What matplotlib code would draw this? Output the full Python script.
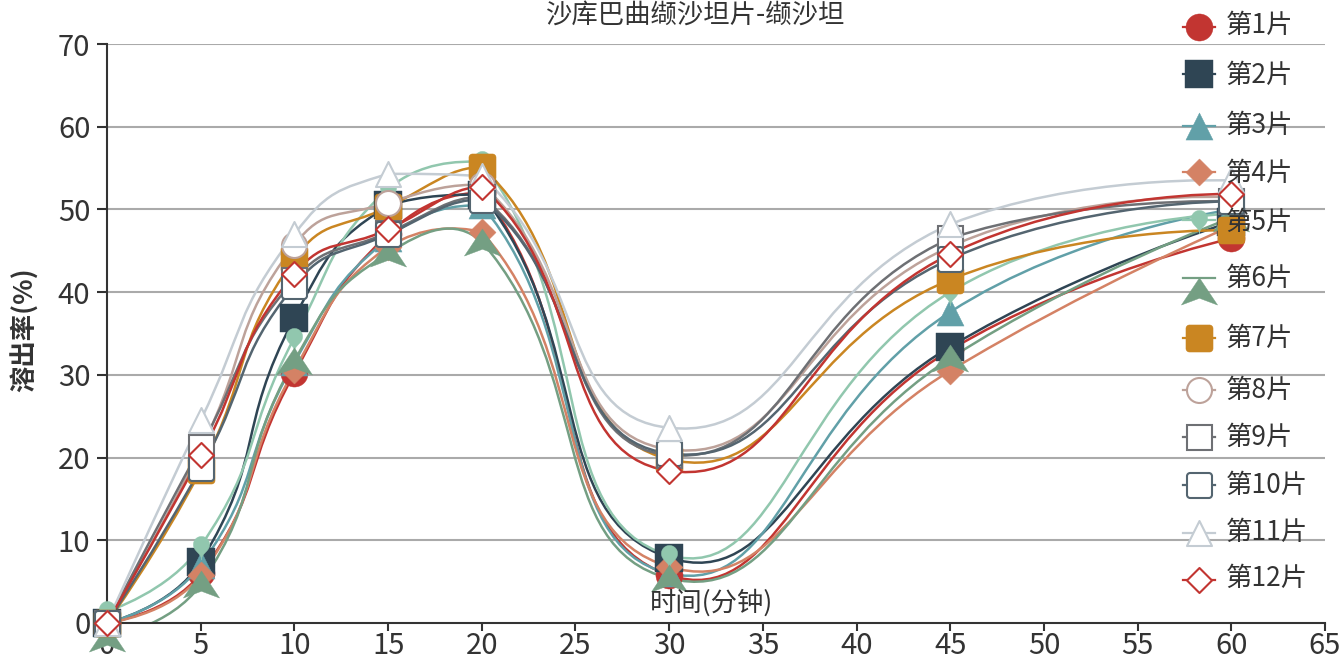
import numpy as np
import matplotlib
matplotlib.use('Agg')
import matplotlib.pyplot as plt
from matplotlib.path import Path
from matplotlib.patches import PathPatch

plt.rcParams['font.family'] = ['Noto Sans CJK SC', 'DejaVu Sans']

# ---------------- data ----------------
title = '沙库巴曲缬沙坦片-缬沙坦'
x_name = '时间(分钟)'
y_name = '溶出率(%)'
times = [0, 5, 10, 15, 20, 30, 45, 60]

s1 = [0, 6.0, 30.2, 47.0, 52.0, 5.8, 33.0, 46.5]
s2 = [0, 7.4, 36.9, 50.5, 51.8, 7.9, 33.4, 48.5]
s3 = [0, 7.0, 31.5, 46.5, 50.5, 6.0, 37.6, 50.0]
s4 = [0, 5.8, 30.6, 45.5, 47.3, 6.8, 30.5, 48.0]
s5 = [1.4, 9.3, 34.5, 52.5, 55.8, 8.2, 40.0, 49.5]
s6 = [-1.8, 4.7, 31.7, 44.7, 46.1, 5.4, 32.0, 49.0]
s7 = [0, 18.5, 44.0, 50.3, 55.1, 19.8, 41.5, 47.5]
s8 = [0, 21.0, 45.7, 50.8, 53.0, 21.0, 45.5, 51.5]
s9 = [0, 21.3, 41.5, 47.2, 51.5, 20.3, 46.5, 51.0]
s10 = [0, 18.7, 40.8, 47.0, 51.2, 20.5, 44.0, 51.0]
s11 = [0, 24.5, 47.0, 54.3, 54.0, 23.6, 48.2, 53.5]
s12 = [0, 20.3, 42.2, 47.6, 52.7, 18.4, 44.6, 51.9]

series_values = [s1, s2, s3, s4, s5, s6, s7, s8, s9, s10, s11, s12]
series_names = ['第1片', '第2片', '第3片', '第4片', '第5片', '第6片',
                '第7片', '第8片', '第9片', '第10片', '第11片', '第12片']
y_ticks = [0, 10, 20, 30, 40, 50, 60, 70]
x_ticks = [0, 5, 10, 15, 20, 25, 30, 35, 40, 45, 50, 55, 60, 65]

# ---------------- styles ----------------
palette = ['#c23531', '#2f4554', '#61a0a8', '#d48265', '#91c7ae', '#749f83',
           '#ca8622', '#bda29a', '#6e7074', '#546570', '#c4ccd3', '#c23531']
symbols = ['circle', 'rect', 'triangle', 'diamond', 'pin', 'arrow', 'roundRect',
           'emptyCircle', 'emptyRect', 'emptyRoundRect', 'emptyTriangle', 'emptyDiamond']


def round_rect_path(r=0.125):
    h = 0.5
    verts, codes = [], []
    k = 0.5523 * r
    verts += [(-h + r, -h)]; codes += [Path.MOVETO]
    verts += [(h - r, -h)]; codes += [Path.LINETO]
    verts += [(h - r + k, -h), (h, -h + r - k), (h, -h + r)]; codes += [Path.CURVE4] * 3
    verts += [(h, h - r)]; codes += [Path.LINETO]
    verts += [(h, h - r + k), (h - r + k, h), (h - r, h)]; codes += [Path.CURVE4] * 3
    verts += [(-h + r, h)]; codes += [Path.LINETO]
    verts += [(-h + r - k, h), (-h, h - r + k), (-h, h - r)]; codes += [Path.CURVE4] * 3
    verts += [(-h, -h + r)]; codes += [Path.LINETO]
    verts += [(-h, -h + r - k), (-h + r - k, -h), (-h + r, -h)]; codes += [Path.CURVE4] * 3
    verts += [(-h + r, -h)]; codes += [Path.CLOSEPOLY]
    return Path(verts, codes)


def pin_path():
    r = 0.3
    hh = 1.0
    tip = 0.5
    dy = r * r / (hh - r)
    cy = tip - hh + r + dy
    ang = np.arcsin(dy / r)
    dx = np.cos(ang) * r
    tx, ty = np.sin(ang), np.cos(ang)
    cl, cl2 = r * 0.6, r * 0.7
    pts = []
    for a in np.linspace(np.pi - ang, 2 * np.pi + ang, 40):
        pts.append((r * np.cos(a), cy + r * np.sin(a)))
    def bez(p0, p1, p2, p3, n=15):
        t = np.linspace(0, 1, n)[1:]
        p0, p1, p2, p3 = map(np.array, (p0, p1, p2, p3))
        return [tuple((1 - u) ** 3 * p0 + 3 * (1 - u) ** 2 * u * p1 + 3 * (1 - u) * u ** 2 * p2 + u ** 3 * p3) for u in t]
    pts += bez((dx, cy + dy), (dx - tx * cl, cy + dy + ty * cl), (0, tip - cl2), (0, tip))
    pts += bez((0, tip), (0, tip - cl2), (-dx + tx * cl, cy + dy + ty * cl), (-dx, cy + dy))
    pts = [(px, -py) for px, py in pts]
    return Path(pts + [pts[0]], [Path.MOVETO] + [Path.LINETO] * (len(pts) - 1) + [Path.CLOSEPOLY])


tri = Path([(0, 0.5), (-0.5, -0.5), (0.5, -0.5), (0, 0.5)],
           [Path.MOVETO, Path.LINETO, Path.LINETO, Path.CLOSEPOLY])
dia = Path([(0, 0.5), (0.5, 0), (0, -0.5), (-0.5, 0), (0, 0.5)],
           [Path.MOVETO, Path.LINETO, Path.LINETO, Path.LINETO, Path.CLOSEPOLY])
arrow = Path([(0, 0.5), (2 / 3, -0.5), (0, -0.25), (-2 / 3, -0.5), (0, 0.5)],
             [Path.MOVETO, Path.LINETO, Path.LINETO, Path.LINETO, Path.CLOSEPOLY])
rrect = round_rect_path()
pin = pin_path()

MS = 19.5
marker_def = {
    'circle': ('o', MS), 'rect': ('s', MS), 'triangle': (tri, MS), 'diamond': (dia, MS),
    'pin': (pin, MS), 'arrow': (arrow, MS * 4 / 3), 'roundRect': (rrect, MS),
}


def marker_style(sym, color):
    empty = sym.startswith('empty')
    base = sym[5].lower() + sym[6:] if empty else sym
    m, ms = marker_def[base]
    if empty:
        return dict(marker=m, markersize=ms - 1.5, markerfacecolor='white',
                    markeredgecolor=color, markeredgewidth=1.5)
    return dict(marker=m, markersize=ms, markerfacecolor=color,
                markeredgecolor=color, markeredgewidth=0.3)


# ---------------- figure ----------------
W, H = 1341, 660
fig = plt.figure(figsize=(W / 100, H / 100), dpi=100)
L, R, T, B = 107, 1325, 44, 623
ax = fig.add_axes([L / W, (H - B) / H, (R - L) / W, (B - T) / H])
ax.set_xlim(0, 65)
ax.set_ylim(0, 70)
ax.set_xticks(x_ticks)
ax.set_yticks(y_ticks)
ax.set_xticklabels([str(v) for v in x_ticks])
ax.set_yticklabels([str(v) for v in y_ticks])
for sp in ['top', 'right']:
    ax.spines[sp].set_visible(False)
for sp in ['left', 'bottom']:
    ax.spines[sp].set_color('#333333')
    ax.spines[sp].set_linewidth(1.5)
ax.tick_params(axis='both', colors='#333333', labelsize=21, width=1.5)
for lab in ax.get_xticklabels() + ax.get_yticklabels():
    lab.set_fontweight('medium')
ax.tick_params(axis='y', length=7, pad=5)
ax.tick_params(axis='x', length=6, pad=0)
for v in y_ticks[1:]:
    ax.axhline(v, color='#aaaaaa', lw=1.5, zorder=0.5)


def echarts_smooth(px, py, smooth=0.5):
    pts = np.column_stack([px, py]).astype(float)
    mn, mx = pts.min(0), pts.max(0)
    verts = [pts[0].copy()]
    codes = [Path.MOVETO]
    cp0 = pts[0].copy()
    n = len(pts)
    for i in range(1, n):
        p = pts[i]
        prev = pts[i - 1]
        if i == n - 1:
            cp1 = p.copy()
            v = np.zeros(2)
            ratio = 0.5
        else:
            nxt = pts[i + 1]
            v = nxt - prev
            lp = np.hypot(*(p - prev))
            ln = np.hypot(*(p - nxt))
            ratio = ln / (ln + lp)
            cp1 = p - v * smooth * (1 - ratio)
        verts += [np.clip(cp0, mn, mx), np.clip(cp1, mn, mx), p.copy()]
        codes += [Path.CURVE4] * 3
        cp0 = p + v * smooth * ratio
    return np.array(verts), codes


to_pix = ax.transData
to_data = ax.transData.inverted()
for i, vals in enumerate(series_values):
    pix = to_pix.transform(np.column_stack([times, vals]))
    verts, codes = echarts_smooth(pix[:, 0], pix[:, 1])
    dverts = to_data.transform(verts)
    patch = PathPatch(Path(dverts, codes), fill=False, edgecolor=palette[i], lw=1.8, zorder=2)
    ax.add_patch(patch)

for i, vals in enumerate(series_values):
    ax.plot(times, vals, linestyle='none', clip_on=False, zorder=3 + i * 0.01,
            **marker_style(symbols[i], palette[i]))

# ---------------- overlay: titles & legend ----------------
ov = fig.add_axes([0, 0, 1, 1], zorder=5)
ov.set_xlim(0, W)
ov.set_ylim(H, 0)
ov.axis('off')
ov.patch.set_alpha(0)

ov.text(695, 15, title, ha='center', va='center', fontsize=19, color='#333333')
ov.text(25, 330, y_name, ha='center', va='center', rotation=90, fontsize=19,
        fontweight='bold', color='#333333')
ov.text(712, 603, x_name, ha='center', va='center', fontsize=19, color='#333333')

legend_text_y = [25, 75, 125, 173, 222, 278, 338, 390, 437, 485, 532, 578]
legend_icon_y = [27, 74, 126, 172, 220, 291, 338, 390, 437, 485, 533, 580]
legend_line_y = [27, 74, 126, 172, 220, 278, 338, 390, 437, 485, 533, 580]
for i, name in enumerate(series_names):
    ov.plot([1183, 1215], [legend_line_y[i]] * 2, color=palette[i], lw=1.6, zorder=1)
    ov.plot([1199], [legend_icon_y[i]], linestyle='none', zorder=2,
            **marker_style(symbols[i], palette[i]))
    ov.text(1226, legend_text_y[i], name, ha='left', va='center', fontsize=19,
            color='#333333', zorder=3)

fig.savefig('out.png', dpi=100)
